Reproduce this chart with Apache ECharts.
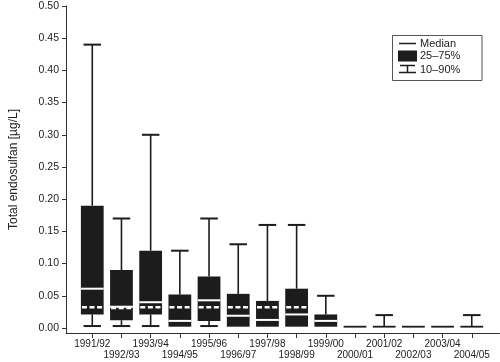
<!DOCTYPE html>
<html>
<head>
<meta charset="utf-8">
<script src="https://cdn.jsdelivr.net/npm/echarts@6/dist/echarts.min.js"></script>
<style>html,body{margin:0;padding:0;background:#fff}#c{width:500px;height:362px}</style>
</head>
<body>
<div id="c"></div>
<script>
const categories = ['1991/92','1992/93','1993/94','1994/95','1995/96','1996/97','1997/98','1998/99','1999/00','2000/01','2001/02','2002/03','2003/04','2004/05'];
const p10    = [0.003,0.003,0.003,0.002,0.003,0.002,0.002,0.002,0.002,0.002,0.002,0.002,0.002,0.002];
const q1     = [0.021,0.012,0.021,0.002,0.011,0.002,0.002,0.002,0.002,0.002,0.002,0.002,0.002,0.002];
const median = [0.061,0.033,0.040,0.011,0.043,0.019,0.0125,0.021,0.011,0.002,0.002,0.002,0.002,0.002];
const q3     = [0.190,0.090,0.120,0.052,0.080,0.053,0.042,0.061,0.021,0.002,0.002,0.002,0.002,0.002];
const p90    = [0.440,0.170,0.300,0.120,0.170,0.130,0.160,0.160,0.050,0.002,0.020,0.002,0.002,0.020];
const mean   = [0.032,0.031,0.032,0.032,0.032,0.032,0.032,0.032,null,null,null,null,null,null];
const yTicks = [0,0.05,0.10,0.15,0.20,0.25,0.30,0.35,0.40,0.45,0.50];
const xTicks = categories.map((c,i)=>i);
const xEven = xTicks.filter(i=>i%2===0);
const xOdd = xTicks.filter(i=>i%2===1);

const FONT = 'Liberation Sans, Arial, Helvetica, sans-serif';
const INK = '#1c1c1c';
const rows = categories.map((c,i)=>[i,p10[i],q1[i],median[i],q3[i],p90[i],mean[i]==null?NaN:mean[i]]);

function whiskers(params, api){
  const i = api.value(0);
  const w = api.size([1,0])[0];
  const cap = w*0.30;
  const pLo = api.coord([i,api.value(1)]);
  const pQ1 = api.coord([i,api.value(2)]);
  const pQ3 = api.coord([i,api.value(4)]);
  const pHi = api.coord([i,api.value(5)]);
  const ch = [];
  const st = {stroke:INK,lineWidth:1.6};
  if (pLo[1] > pQ1[1] + 0.5) {
    ch.push({type:'line',shape:{x1:pLo[0],y1:pLo[1],x2:pQ1[0],y2:pQ1[1]},style:st});
    ch.push({type:'line',shape:{x1:pLo[0]-cap,y1:pLo[1],x2:pLo[0]+cap,y2:pLo[1]},style:{stroke:INK,lineWidth:2}});
  }
  if (pHi[1] < pQ3[1] - 0.5) {
    ch.push({type:'line',shape:{x1:pQ3[0],y1:pQ3[1],x2:pHi[0],y2:pHi[1]},style:st});
    ch.push({type:'line',shape:{x1:pHi[0]-cap,y1:pHi[1],x2:pHi[0]+cap,y2:pHi[1]},style:{stroke:INK,lineWidth:2}});
  }
  return {type:'group',children:ch};
}
function boxes(params, api){
  const i = api.value(0);
  const w = api.size([1,0])[0];
  const hw = w*0.39;
  const a = api.coord([i,api.value(2)]);
  const b = api.coord([i,api.value(4)]);
  let h = a[1]-b[1];
  let top = b[1];
  if (h < 1.8) { top = b[1]-0.9; h = 1.8; }
  return {type:'rect',shape:{x:a[0]-hw,y:top,width:hw*2,height:h},style:{fill:INK}};
}
function medians(params, api){
  const i = api.value(0);
  if (api.value(4) - api.value(2) <= 0) return null;
  const w = api.size([1,0])[0];
  const hw = w*0.39;
  const m = api.coord([i,api.value(3)]);
  return {type:'line',shape:{x1:m[0]-hw,y1:m[1],x2:m[0]+hw,y2:m[1]},style:{stroke:'#fff',lineWidth:2}};
}
function means(params, api){
  const i = api.value(0);
  const v = api.value(6);
  if (isNaN(v)) return null;
  const w = api.size([1,0])[0];
  const hw = w*0.39;
  const m = api.coord([i,v]);
  return {type:'line',shape:{x1:m[0]-hw+1,y1:m[1],x2:m[0]+hw,y2:m[1]},style:{stroke:'#fff',lineWidth:2.5,lineDash:[5,2.6]}};
}

const labelFmt = (v)=>categories[Math.round(v)];
const chart = echarts.init(document.getElementById('c'), null, {renderer:'canvas'});
chart.setOption({
  animation:false,
  backgroundColor:'#fff',
  textStyle:{fontFamily:FONT},
  grid:{left:62,right:0.5,top:6,bottom:29,containLabel:false},
  xAxis:[{
    type:'value', min:-0.9, max:13.95, position:'bottom',
    splitLine:{show:false},
    axisLine:{show:true,onZero:false,lineStyle:{color:'#333',width:1}},
    axisTick:{show:true,length:5,customValues:xTicks,lineStyle:{color:'#333',width:1}},
    axisLabel:{customValues:xEven,showMinLabel:true,showMaxLabel:true,
      margin:6,fontSize:10,color:'#222',fontFamily:FONT,formatter:labelFmt}
  },{
    type:'value', min:-0.9, max:13.95, position:'bottom',
    splitLine:{show:false},
    axisLine:{show:false,onZero:false},
    axisTick:{show:false},
    axisLabel:{customValues:xOdd,showMinLabel:true,showMaxLabel:true,
      margin:17.5,fontSize:10,color:'#222',fontFamily:FONT,formatter:labelFmt}
  }],
  yAxis:{
    type:'value', min:-0.0078, max:0.5,
    name:'Total endosulfan [µg/L]', nameLocation:'middle', nameGap:46,
    nameTextStyle:{fontSize:12,color:'#222',fontFamily:FONT},
    splitLine:{show:false},
    axisLine:{show:true,onZero:false,lineStyle:{color:'#333',width:1}},
    axisTick:{show:true,length:4,customValues:yTicks,lineStyle:{color:'#333'}},
    axisLabel:{customValues:yTicks,showMinLabel:true,showMaxLabel:true,margin:7,fontSize:10.5,color:'#222',fontFamily:FONT,
      formatter:(v)=>v.toFixed(2)}
  },
  series:[
    {type:'custom',name:'10–90%',renderItem:whiskers,data:rows,encode:{x:0,y:[1,5]},z:1},
    {type:'custom',name:'25–75%',renderItem:boxes,data:rows,encode:{x:0,y:[2,4]},z:2},
    {type:'custom',name:'Median',renderItem:medians,data:rows,encode:{x:0,y:3},z:3},
    {type:'custom',name:'Mean',renderItem:means,data:rows,encode:{x:0,y:6},z:4}
  ],
  graphic:[
    {type:'rect',shape:{x:392.5,y:35.5,width:89.5,height:45},style:{fill:'#fff',stroke:'#555',lineWidth:1},z:10},
    {type:'line',shape:{x1:399,y1:43.5,x2:416,y2:43.5},style:{stroke:INK,lineWidth:1.5},z:11},
    {type:'rect',shape:{x:398,y:50.5,width:19,height:11},style:{fill:INK},z:11},
    {type:'line',shape:{x1:400,y1:65.5,x2:415,y2:65.5},style:{stroke:INK,lineWidth:1.5},z:11},
    {type:'line',shape:{x1:407.5,y1:65.5,x2:407.5,y2:72.5},style:{stroke:INK,lineWidth:1.5},z:11},
    {type:'line',shape:{x1:399,y1:72.5,x2:416,y2:72.5},style:{stroke:INK,lineWidth:1.5},z:11},
    {type:'text',x:420,y:43.7,style:{text:'Median',fontSize:11,fontFamily:FONT,fill:'#222',verticalAlign:'middle'},z:11},
    {type:'text',x:420,y:55.5,style:{text:'25–75%',fontSize:11,fontFamily:FONT,fill:'#222',verticalAlign:'middle'},z:11},
    {type:'text',x:420,y:69.5,style:{text:'10–90%',fontSize:11,fontFamily:FONT,fill:'#222',verticalAlign:'middle'},z:11}
  ]
});
</script>
</body>
</html>
